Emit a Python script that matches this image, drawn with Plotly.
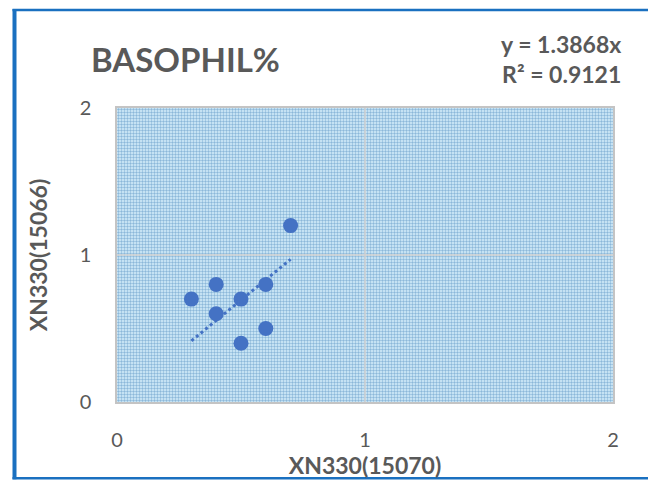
import plotly.graph_objects as go

# Data
x_vals = [0.3, 0.4, 0.4, 0.5, 0.5, 0.6, 0.6, 0.7]
y_vals = [0.7, 0.8, 0.6, 0.7, 0.4, 0.8, 0.5, 1.2]
slope = 1.3868
r2 = 0.9121
axis_range = [0, 2]
tick_vals = [0, 1, 2]
tick_text = ["0", "1", "2"]
title_text = "BASOPHIL%"
x_title = "XN330(15070)"
y_title = "XN330(15066)"

BLUE = "#4472C4"
GREY = "#595959"
FONT = "Lato"

# page offset (browser body margin) and target pixel geometry
OFF = 8
L, R, T, B = 117, 613, 108, 405
W, H = 656, 485
pw, ph = R - L, B - T

def px(x):
    return (x - L) / pw

def py(y):
    return (B - y) / ph

fig = go.Figure()

# background pattern fill covering the axis range
fig.add_trace(go.Scatter(
    x=[axis_range[0], axis_range[1], axis_range[1], axis_range[0], axis_range[0]],
    y=[axis_range[0], axis_range[0], axis_range[1], axis_range[1], axis_range[0]],
    mode="lines", line=dict(width=0), fill="toself",
    fillcolor="#d8f0fb",
    fillpattern=dict(shape=".", fgcolor="#3f80b8", bgcolor="#d8f0fb", size=3, solidity=0.5),
    hoverinfo="skip", showlegend=False,
))

# trendline through origin
tx = [min(x_vals), max(x_vals)]
ty = [slope * v for v in tx]
fig.add_trace(go.Scatter(
    x=tx, y=ty, mode="lines",
    line=dict(color=BLUE, width=3, dash="dot"),
    showlegend=False, hoverinfo="skip",
))

fig.add_trace(go.Scatter(
    x=x_vals, y=y_vals, mode="markers",
    marker=dict(color=BLUE, size=15),
    showlegend=False,
))

shapes = []
# gridlines drawn over the pattern
for v in tick_vals[1:-1]:
    shapes.append(dict(type="line", xref="x", yref="paper", x0=v, x1=v, y0=0, y1=1,
                       line=dict(color="#d0d0d0", width=1.5), layer="above"))
    shapes.append(dict(type="line", xref="paper", yref="y", x0=0, x1=1, y0=v, y1=v,
                       line=dict(color="#d0d0d0", width=1.5), layer="above"))
# outer chart border (blue)
shapes.append(dict(type="line", xref="paper", yref="paper", x0=px(14.5), x1=px(14.5),
                   y0=py(8), y1=py(483), line=dict(color="#1a70c0", width=4)))
shapes.append(dict(type="line", xref="paper", yref="paper", x0=px(12.5), x1=px(680),
                   y0=py(9), y1=py(9), line=dict(color="#1a70c0", width=2.5)))
shapes.append(dict(type="line", xref="paper", yref="paper", x0=px(12.5), x1=px(680),
                   y0=py(482), y1=py(482), line=dict(color="#1a70c0", width=2.5)))

annotations = [
    dict(text=f"<b>{title_text}</b>", xref="paper", yref="paper", x=px(89), y=py(59),
         xanchor="left", yanchor="middle", showarrow=False,
         font=dict(family=FONT, size=33, color=GREY)),
    dict(text=f"<b>y = {slope:.4f}x<br>R² = {r2:.4f}</b>", xref="paper", yref="paper",
         x=px(623), y=py(58), xanchor="right", yanchor="middle", align="right",
         showarrow=False, font=dict(family=FONT, size=23, color=GREY)),
]

axis_common = dict(
    range=axis_range, tickvals=tick_vals, ticktext=tick_text,
    showgrid=False, zeroline=False,
    showline=True, linecolor="#c4c4c4", linewidth=1.5, mirror=True,
    ticks="outside", tickcolor="rgba(0,0,0,0)",
    tickfont=dict(family=FONT, size=20, color=GREY),
)

fig.update_layout(
    width=W - OFF, height=H - OFF,
    margin=dict(l=L - OFF, r=W - R, t=T - OFF, b=H - B),
    paper_bgcolor="white", plot_bgcolor="white",
    font=dict(family=FONT, color=GREY),
    xaxis=dict(**axis_common, ticklen=19,
               title=dict(text=f"<b>{x_title}</b>", font=dict(family=FONT, size=23, color=GREY), standoff=6)),
    yaxis=dict(**axis_common, ticklen=20,
               title=dict(text=f"<b>{y_title}</b>", font=dict(family=FONT, size=23, color=GREY), standoff=26)),
    shapes=shapes,
    annotations=annotations,
)

fig.write_html("out.html")
